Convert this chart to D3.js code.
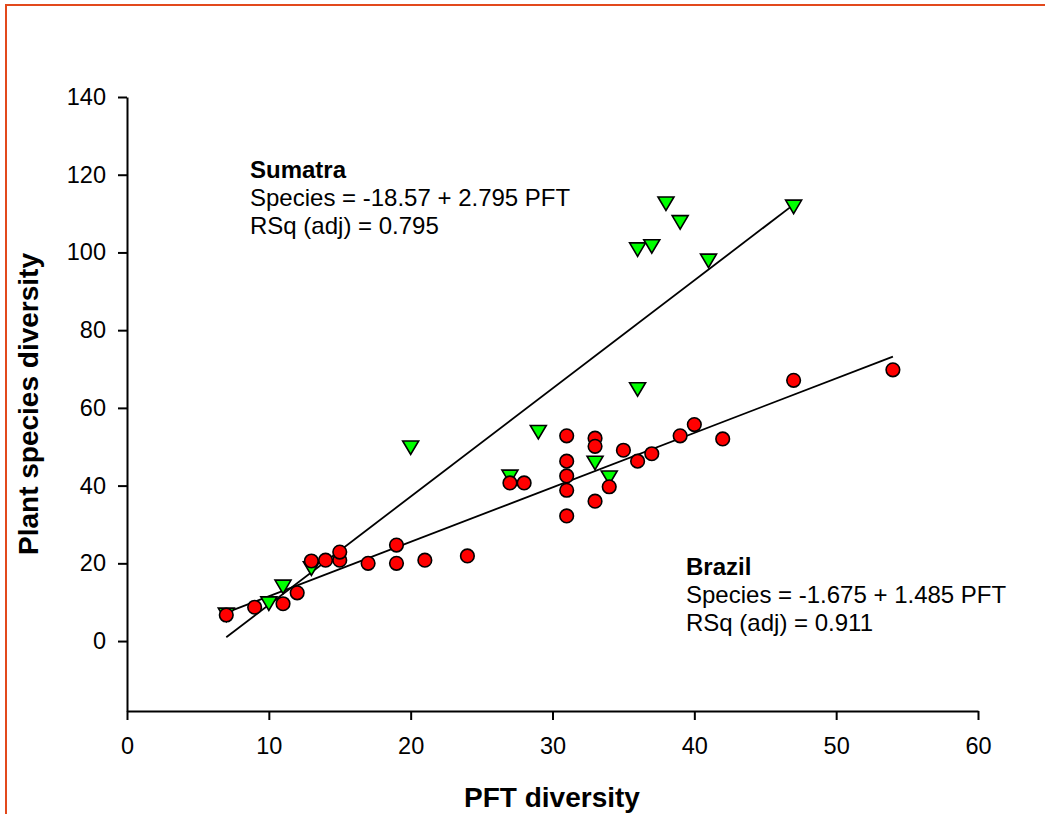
<!DOCTYPE html>
<html lang="en">
	<head>
		<meta charset="utf-8">
		<title>PFT diversity vs plant species diversity</title>
		<script src="https://d3js.org/d3.v7.min.js"></script>
		<style type="text/css">
			body {
				margin: 0;
				background: #fff;
			}
			svg text {
				font-family: "Liberation Sans", Arial, sans-serif;
			}
			.axis path,
			.axis line {
				fill: none;
				stroke: black;
				stroke-width: 2px;
			}
			.axis text {
				font-size: 23.5px;
				fill: black;
			}
			.fit {
				fill: none;
				stroke: black;
				stroke-width: 1.8px;
			}
			.note {
				font-size: 24px;
			}
			.title {
				font-size: 28px;
				font-weight: bold;
			}
		</style>
	</head>
	<body>
		<script type="text/javascript">
			//Width and height
			var w = 1045;
			var h = 814;

			//Brazil plots (red circles)
			var brazilPFT     = [7, 9, 11, 12, 13, 14, 15, 15, 17, 19, 19, 21, 24, 27, 28, 31, 31, 31, 31, 31, 33, 33, 33, 34, 35, 36, 37, 39, 40, 42, 47, 54];
			var brazilSpecies = [6.7, 8.7, 9.6, 12.4, 20.6, 20.8, 20.8, 22.9, 20, 20, 24.7, 20.8, 21.9, 40.7, 40.7, 52.8, 46.3, 42.5, 38.8, 32.2, 52.2, 50.1, 36, 39.7, 49.1, 46.3, 48.2, 52.8, 55.7, 52, 67.1, 69.8];

			//Sumatra plots (green triangles)
			var sumatraPFT     = [7, 10, 11, 13, 20, 27, 29, 33, 34, 36, 36, 37, 38, 39, 41, 47];
			var sumatraSpecies = [6.8, 9.7, 14, 18.7, 49.8, 42.3, 53.8, 45.9, 42.1, 64.8, 100.8, 101.6, 112.6, 107.8, 97.9, 111.8];

			//Fitted lines, end points as drawn
			var sumatraFitPFT     = [7, 47];
			var sumatraFitSpecies = [1, 112.3];
			var brazilFitPFT      = [7, 54];
			var brazilFitSpecies  = [7.3, 73.2];

			//Ticks
			var xTicks = [0, 10, 20, 30, 40, 50, 60];
			var yTicks = [0, 20, 40, 60, 80, 100, 120, 140];

			//Annotation texts
			var sumatraNote = ["Sumatra", "Species = -18.57 + 2.795 PFT", "RSq (adj) = 0.795"];
			var brazilNote  = ["Brazil", "Species = -1.675 + 1.485 PFT", "RSq (adj) = 0.911"];

			//Scales
			var xScale = d3.scaleLinear()
								 .domain([0, 60])
								 .range([127, 978]);
			var yScale = d3.scaleLinear()
								 .domain([-18, 140])
								 .range([711, 97]);

			var svg = d3.select("body")
						.append("svg")
						.attr("width", w)
						.attr("height", h);

			//Orange frame (top and left edge visible)
			svg.append("path")
				.attr("d", "M6,814 L6,5 L1045,5")
				.style("fill", "none")
				.style("stroke", "#e2491c")
				.style("stroke-width", 2);

			//Axes
			var xAxis = d3.axisBottom(xScale)
							  .tickValues(xTicks)
							  .tickSize(9)
							  .tickSizeOuter(0)
							  .tickPadding(17);
			var yAxis = d3.axisLeft(yScale)
							  .tickValues(yTicks)
							  .tickSize(9)
							  .tickSizeOuter(0)
							  .tickPadding(12);

			svg.append("g")
				.attr("class", "x axis")
				.attr("transform", "translate(0,711)")
				.call(xAxis);

			svg.append("g")
				.attr("class", "y axis")
				.attr("transform", "translate(127,0)")
				.call(yAxis);

			svg.selectAll(".axis").attr("font-family", null).attr("font-size", null);

			//Fitted lines
			var line = d3.line()
				.x(function(d) { return xScale(d[0]); })
				.y(function(d) { return yScale(d[1]); });

			svg.append("path")
				.datum(d3.zip(sumatraFitPFT, sumatraFitSpecies))
				.attr("class", "fit")
				.attr("d", line);
			svg.append("path")
				.datum(d3.zip(brazilFitPFT, brazilFitSpecies))
				.attr("class", "fit")
				.attr("d", line);

			//Sumatra triangles (pointing down)
			svg.append("g")
			   .selectAll("path")
			   .data(d3.zip(sumatraPFT, sumatraSpecies))
			   .enter()
			   .append("path")
			   .attr("d", function(d) {
					var x = xScale(d[0]), y = yScale(d[1]);
					return "M" + (x - 8) + "," + (y - 6.5) + "L" + (x + 8) + "," + (y - 6.5) + "L" + x + "," + (y + 7) + "Z";
			   })
			   .style("fill", "#00ff00")
			   .style("stroke", "black")
			   .style("stroke-width", 1.6);

			//Brazil circles
			svg.append("g")
			   .selectAll("circle")
			   .data(d3.zip(brazilPFT, brazilSpecies))
			   .enter()
			   .append("circle")
			   .attr("cx", function(d) { return xScale(d[0]); })
			   .attr("cy", function(d) { return yScale(d[1]); })
			   .attr("r", 6.8)
			   .style("fill", "#ff0000")
			   .style("stroke", "black")
			   .style("stroke-width", 1.6);

			//Annotations
			function addNote(lines, x, y) {
				svg.append("g")
					.selectAll("text")
					.data(lines)
					.enter()
					.append("text")
					.attr("class", "note")
					.attr("x", x)
					.attr("y", function(d, i) { return y + i * 28; })
					.style("font-weight", function(d, i) { return i == 0 ? "bold" : "normal"; })
					.text(function(d) { return d; });
			}
			addNote(sumatraNote, 250, 178);
			addNote(brazilNote, 686, 575);

			//Axis titles
			svg.append("text")
				.attr("class", "title")
				.attr("x", 552)
				.attr("y", 807)
				.attr("text-anchor", "middle")
				.text("PFT diversity");

			svg.append("text")
				.attr("class", "title")
				.attr("transform", "translate(38,404) rotate(-90)")
				.attr("text-anchor", "middle")
				.text("Plant species diversity");
		</script>
	</body>
</html>
